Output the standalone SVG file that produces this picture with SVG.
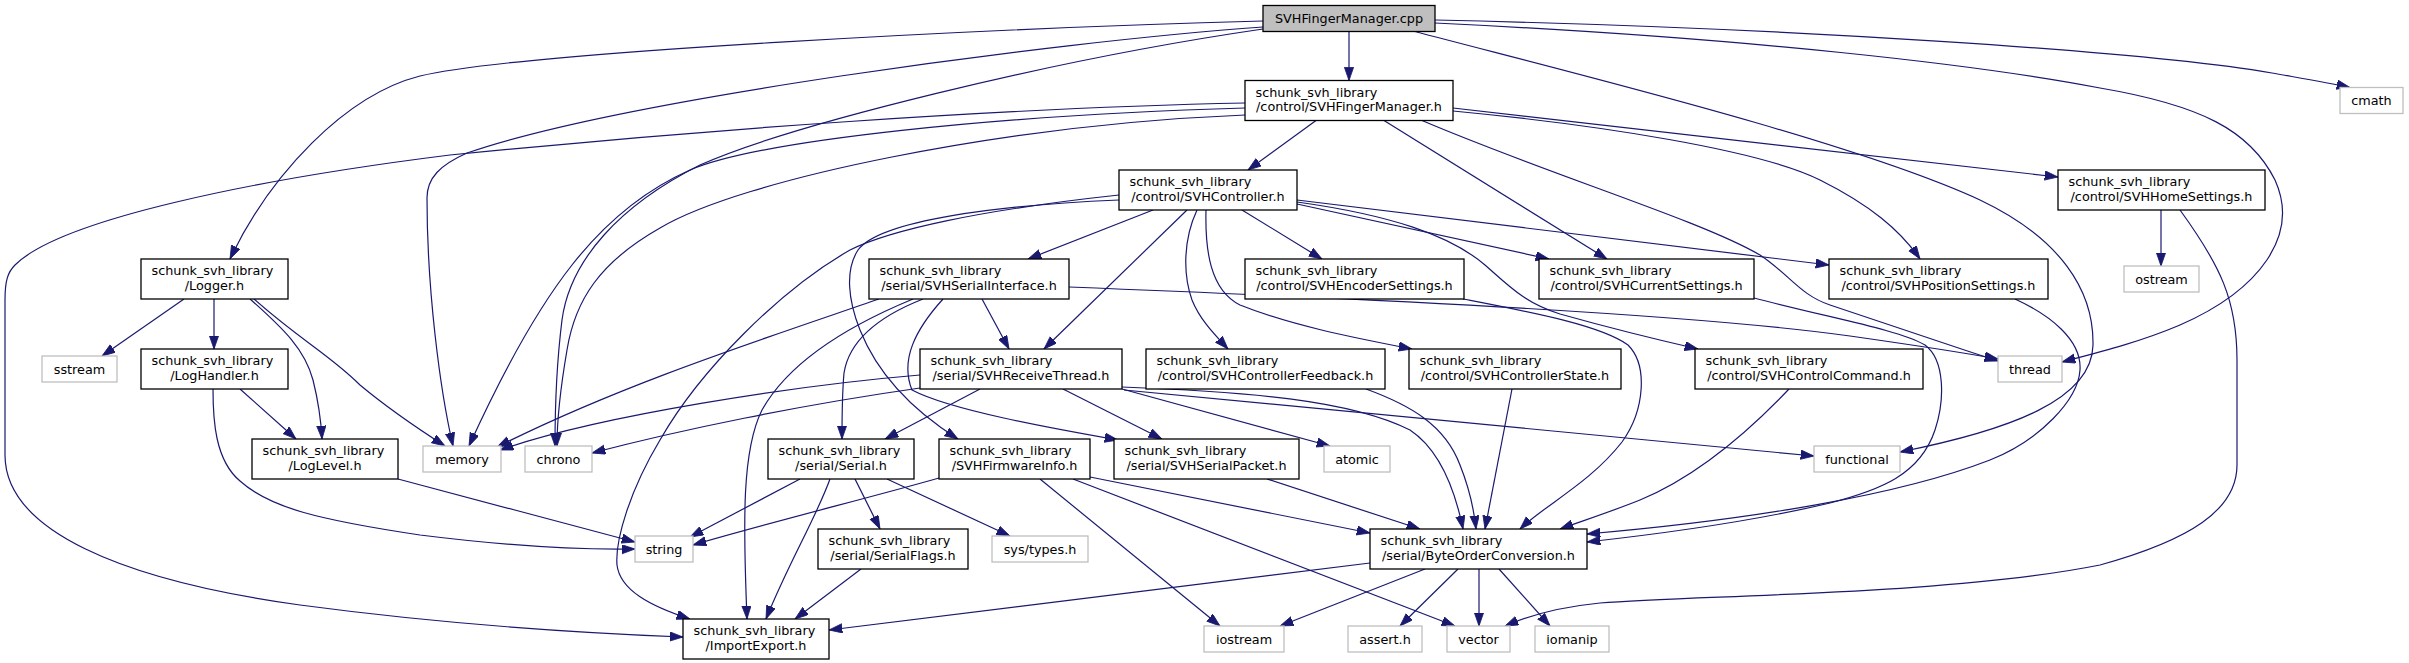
<svg xmlns="http://www.w3.org/2000/svg" width="2409" height="663" viewBox="0 0 2409 663">
<style>
.n{fill:#fff;stroke:#000;stroke-width:1.3}
.s{fill:#fff;stroke:#bfbfbf;stroke-width:1.3}
.r{fill:#bfbfbf;stroke:#000;stroke-width:1.3}
text{font-family:"DejaVu Sans","Liberation Sans",sans-serif;font-size:12.8px;fill:#000}
.m{text-anchor:middle}
.e{fill:none;stroke:#191970;stroke-width:1.2;marker-end:url(#a)}
</style>
<defs>
<marker id="a" markerUnits="userSpaceOnUse" markerWidth="14" markerHeight="10" refX="13.3" refY="4.65" orient="auto">
<path d="M0,0 L13.3,4.65 L0,9.3 Z" fill="#191970" stroke="#191970" stroke-width="0.8"/>
</marker>
</defs>
<rect width="2409" height="663" fill="#fff"/>
<g id="edges">
<path class="e" d="M1349,31.5 L1349,80.5"/>
<path class="e" d="M1263,21 C1000,28 520,52 420,76 C345,95 270,175 230,259"/>
<path class="e" d="M1263,27 C1050,42 620,100 467,153 C440,165 427,178 427,198 C427,290 440,390 453,446"/>
<path class="e" d="M1263,29 C1050,60 790,125 700,165 C620,205 570,260 562,320 C557,360 555,400 555,446"/>
<path class="e" d="M1435,20 C1800,28 2150,52 2272,73 C2300,78 2325,82 2350,87.5"/>
<path class="e" d="M1435,23 C1750,38 1980,65 2100,88 C2200,105 2250,130 2275,180 C2300,235 2260,290 2180,325 C2140,342 2100,352 2062,362"/>
<path class="e" d="M1415,31.5 C1560,70 1850,140 1980,200 C2060,238 2094,290 2093,345 C2092,400 2010,430 1900,452"/>
<path class="e" d="M1316,120.5 L1248,170"/>
<path class="e" d="M1245,103 C1000,108 700,130 450,155 C250,180 60,220 15,265 C8,272 5,280 5,300 L5,455 C5,530 120,580 300,605 C450,625 580,633 683,637"/>
<path class="e" d="M1245,108 C1000,115 760,140 690,170 C600,210 540,290 469,446"/>
<path class="e" d="M1245,115 C1000,125 740,180 660,228 C600,262 575,300 567,350 C561,385 557,420 557,446"/>
<path class="e" d="M1384,120.5 L1607,259"/>
<path class="e" d="M1453,108 L2058,177"/>
<path class="e" d="M1453,111 C1600,125 1760,150 1820,180 C1870,205 1900,230 1920,259"/>
<path class="e" d="M1422,120.5 C1550,175 1700,220 1760,255 C1790,275 1800,295 1830,305 C1880,322 1940,342 1998,361"/>
<path class="e" d="M1153,210 L1028,259"/>
<path class="e" d="M1187,210 L1044,349"/>
<path class="e" d="M1119,200 C1000,205 880,220 858,250 C845,270 848,300 860,330 C880,380 920,415 958,439"/>
<path class="e" d="M1119,195 C980,210 890,230 850,250 C780,290 700,370 660,440 C630,490 615,540 617,565 C620,590 650,606 690,619"/>
<path class="e" d="M1197,210 C1183,240 1183,275 1192,300 C1200,320 1215,335 1228,349"/>
<path class="e" d="M1206,210 C1205,250 1210,290 1240,305 C1290,325 1350,337 1412,349"/>
<path class="e" d="M1242,210 L1322,259"/>
<path class="e" d="M1297,204 L1549,259"/>
<path class="e" d="M1297,200 L1829,265"/>
<path class="e" d="M1297,202 C1390,215 1450,235 1485,265 C1510,287 1525,303 1560,314 C1610,328 1650,338 1698,349"/>
<path class="e" d="M982,299 L1009,349"/>
<path class="e" d="M923,299 C890,312 850,335 844,373 C842,395 842,420 842,439"/>
<path class="e" d="M879,299 C760,340 620,385 497,447"/>
<path class="e" d="M913,299 C850,325 790,360 762,410 C742,450 743,520 747,619"/>
<path class="e" d="M943,299 C915,330 900,360 912,390 C950,410 1050,428 1118,440"/>
<path class="e" d="M1069,287 C1400,300 1700,315 1850,336 C1920,346 1960,352 1998,359"/>
<path class="e" d="M920,375 C800,385 600,415 500,450"/>
<path class="e" d="M920,388 C800,405 680,430 592,453"/>
<path class="e" d="M980,389 L885,439"/>
<path class="e" d="M1063,389 L1162,439"/>
<path class="e" d="M1122,389 L1330,446"/>
<path class="e" d="M1122,387 C1250,392 1350,400 1410,430 C1440,450 1455,490 1463,529"/>
<path class="e" d="M1124,390 C1400,415 1650,440 1814,456"/>
<path class="e" d="M939,478 C880,495 760,525 693,545"/>
<path class="e" d="M1040,479 L1220,626"/>
<path class="e" d="M1073,479 L1455,626"/>
<path class="e" d="M1090,477 L1370,533"/>
<path class="e" d="M800,479 L690,537"/>
<path class="e" d="M830,479 C815,520 790,560 766,619"/>
<path class="e" d="M855,479 L880,529"/>
<path class="e" d="M887,479 L1010,536"/>
<path class="e" d="M861,569 L795,619"/>
<path class="e" d="M1267,479 L1420,529"/>
<path class="e" d="M1366,389 C1410,405 1445,425 1460,465 C1470,490 1474,510 1476,529"/>
<path class="e" d="M1512,389 L1485,529"/>
<path class="e" d="M1789,389 C1750,430 1700,475 1640,500 C1610,512 1585,520 1560,529"/>
<path class="e" d="M1463,299 C1530,312 1600,325 1628,345 C1648,365 1645,410 1622,442 C1590,483 1545,505 1520,529"/>
<path class="e" d="M2015,299 C2050,315 2082,340 2080,370 C2078,400 2040,440 1990,460 C1900,495 1750,520 1587,534"/>
<path class="e" d="M1754,298 C1830,318 1900,330 1925,345 C1945,360 1945,400 1935,430 C1920,475 1880,490 1830,503 C1750,522 1650,535 1587,542"/>
<path class="e" d="M2161,210 L2161,266"/>
<path class="e" d="M2180,210 C2220,265 2237,300 2237,360 L2237,465 C2237,510 2190,540 2100,565 C1950,595 1700,595 1600,603 C1560,607 1530,615 1505,626"/>
<path class="e" d="M1370,563 L829,630"/>
<path class="e" d="M1425,569 L1280,626"/>
<path class="e" d="M1458,569 L1400,626"/>
<path class="e" d="M1479,569 L1479,626"/>
<path class="e" d="M1499,569 L1550,626"/>
<path class="e" d="M184,299 L102,356"/>
<path class="e" d="M214,299 L214,349"/>
<path class="e" d="M250,299 C285,330 305,350 313,380 C318,400 321,420 322,439"/>
<path class="e" d="M254,299 C300,340 330,355 360,385 C390,410 420,430 445,446"/>
<path class="e" d="M240,389 L296,439"/>
<path class="e" d="M213,389 C213,420 215,460 240,481 C270,508 320,520 420,535 C500,545 580,550 635,549"/>
<path class="e" d="M398,479 L635,542"/>
</g>
<g id="n_cpp"><rect class="r" x="1263" y="5.5" width="172" height="26"/><text class="m" x="1349" y="23">SVHFingerManager.cpp</text></g>
<g id="n_fm"><rect class="n" x="1245" y="80.5" width="208" height="40"/><text x="1255.5" y="96.5">schunk_svh_library</text><text class="m" x="1349" y="111">/control/SVHFingerManager.h</text></g>
<g id="n_ctrl"><rect class="n" x="1119" y="170" width="178" height="40"/><text x="1129.5" y="186">schunk_svh_library</text><text class="m" x="1208" y="200.5">/control/SVHController.h</text></g>
<g id="n_home"><rect class="n" x="2058" y="170" width="207" height="40"/><text x="2068.5" y="186">schunk_svh_library</text><text class="m" x="2161.5" y="200.5">/control/SVHHomeSettings.h</text></g>
<g id="n_cmath"><rect class="s" x="2340" y="87.5" width="63" height="26"/><text class="m" x="2371.5" y="105">cmath</text></g>
<g id="n_logger"><rect class="n" x="141" y="259" width="147" height="40"/><text x="151.5" y="275">schunk_svh_library</text><text class="m" x="214.5" y="289.5">/Logger.h</text></g>
<g id="n_si"><rect class="n" x="869" y="259" width="200" height="40"/><text x="879.5" y="275">schunk_svh_library</text><text class="m" x="969" y="289.5">/serial/SVHSerialInterface.h</text></g>
<g id="n_enc"><rect class="n" x="1245" y="259" width="219" height="40"/><text x="1255.5" y="275">schunk_svh_library</text><text class="m" x="1354.5" y="289.5">/control/SVHEncoderSettings.h</text></g>
<g id="n_cur"><rect class="n" x="1539" y="259" width="215" height="40"/><text x="1549.5" y="275">schunk_svh_library</text><text class="m" x="1646.5" y="289.5">/control/SVHCurrentSettings.h</text></g>
<g id="n_pos"><rect class="n" x="1829" y="259" width="219" height="40"/><text x="1839.5" y="275">schunk_svh_library</text><text class="m" x="1938.5" y="289.5">/control/SVHPositionSettings.h</text></g>
<g id="n_ostream"><rect class="s" x="2124" y="266" width="75" height="26"/><text class="m" x="2161.5" y="283.5">ostream</text></g>
<g id="n_sstream"><rect class="s" x="42" y="356" width="75" height="26"/><text class="m" x="79.5" y="373.5">sstream</text></g>
<g id="n_loghandler"><rect class="n" x="141" y="349" width="147" height="40"/><text x="151.5" y="365">schunk_svh_library</text><text class="m" x="214.5" y="379.5">/LogHandler.h</text></g>
<g id="n_rt"><rect class="n" x="920" y="349" width="202" height="40"/><text x="930.5" y="365">schunk_svh_library</text><text class="m" x="1021" y="379.5">/serial/SVHReceiveThread.h</text></g>
<g id="n_cf"><rect class="n" x="1146" y="349" width="239" height="40"/><text x="1156.5" y="365">schunk_svh_library</text><text class="m" x="1265.5" y="379.5">/control/SVHControllerFeedback.h</text></g>
<g id="n_cs"><rect class="n" x="1409" y="349" width="212" height="40"/><text x="1419.5" y="365">schunk_svh_library</text><text class="m" x="1515" y="379.5">/control/SVHControllerState.h</text></g>
<g id="n_cc"><rect class="n" x="1695" y="349" width="228" height="40"/><text x="1705.5" y="365">schunk_svh_library</text><text class="m" x="1809" y="379.5">/control/SVHControlCommand.h</text></g>
<g id="n_thread"><rect class="s" x="1998" y="356" width="64" height="26"/><text class="m" x="2030" y="373.5">thread</text></g>
<g id="n_loglevel"><rect class="n" x="252" y="439" width="146" height="40"/><text x="262.5" y="455">schunk_svh_library</text><text class="m" x="325" y="469.5">/LogLevel.h</text></g>
<g id="n_memory"><rect class="s" x="423" y="446" width="78" height="26"/><text class="m" x="462" y="463.5">memory</text></g>
<g id="n_chrono"><rect class="s" x="525" y="446" width="67" height="26"/><text class="m" x="558.5" y="463.5">chrono</text></g>
<g id="n_serial"><rect class="n" x="768" y="439" width="146" height="40"/><text x="778.5" y="455">schunk_svh_library</text><text class="m" x="841" y="469.5">/serial/Serial.h</text></g>
<g id="n_fw"><rect class="n" x="939" y="439" width="151" height="40"/><text x="949.5" y="455">schunk_svh_library</text><text class="m" x="1014.5" y="469.5">/SVHFirmwareInfo.h</text></g>
<g id="n_sp"><rect class="n" x="1114" y="439" width="185" height="40"/><text x="1124.5" y="455">schunk_svh_library</text><text class="m" x="1206.5" y="469.5">/serial/SVHSerialPacket.h</text></g>
<g id="n_atomic"><rect class="s" x="1324" y="446" width="66" height="26"/><text class="m" x="1357" y="463.5">atomic</text></g>
<g id="n_functional"><rect class="s" x="1814" y="446" width="86" height="26"/><text class="m" x="1857" y="463.5">functional</text></g>
<g id="n_string"><rect class="s" x="635" y="536" width="58" height="26"/><text class="m" x="664" y="553.5">string</text></g>
<g id="n_sf"><rect class="n" x="818" y="529" width="150" height="40"/><text x="828.5" y="545">schunk_svh_library</text><text class="m" x="893" y="559.5">/serial/SerialFlags.h</text></g>
<g id="n_systypes"><rect class="s" x="992" y="536" width="96" height="26"/><text class="m" x="1040" y="553.5">sys/types.h</text></g>
<g id="n_boc"><rect class="n" x="1370" y="529" width="217" height="40"/><text x="1380.5" y="545">schunk_svh_library</text><text class="m" x="1478.5" y="559.5">/serial/ByteOrderConversion.h</text></g>
<g id="n_ie"><rect class="n" x="683" y="619" width="146" height="40"/><text x="693.5" y="635">schunk_svh_library</text><text class="m" x="756" y="649.5">/ImportExport.h</text></g>
<g id="n_iostream"><rect class="s" x="1204" y="626" width="80" height="26"/><text class="m" x="1244" y="643.5">iostream</text></g>
<g id="n_assert"><rect class="s" x="1348" y="626" width="74" height="26"/><text class="m" x="1385" y="643.5">assert.h</text></g>
<g id="n_vector"><rect class="s" x="1447" y="626" width="63" height="26"/><text class="m" x="1478.5" y="643.5">vector</text></g>
<g id="n_iomanip"><rect class="s" x="1535" y="626" width="74" height="26"/><text class="m" x="1572" y="643.5">iomanip</text></g>
</svg>
